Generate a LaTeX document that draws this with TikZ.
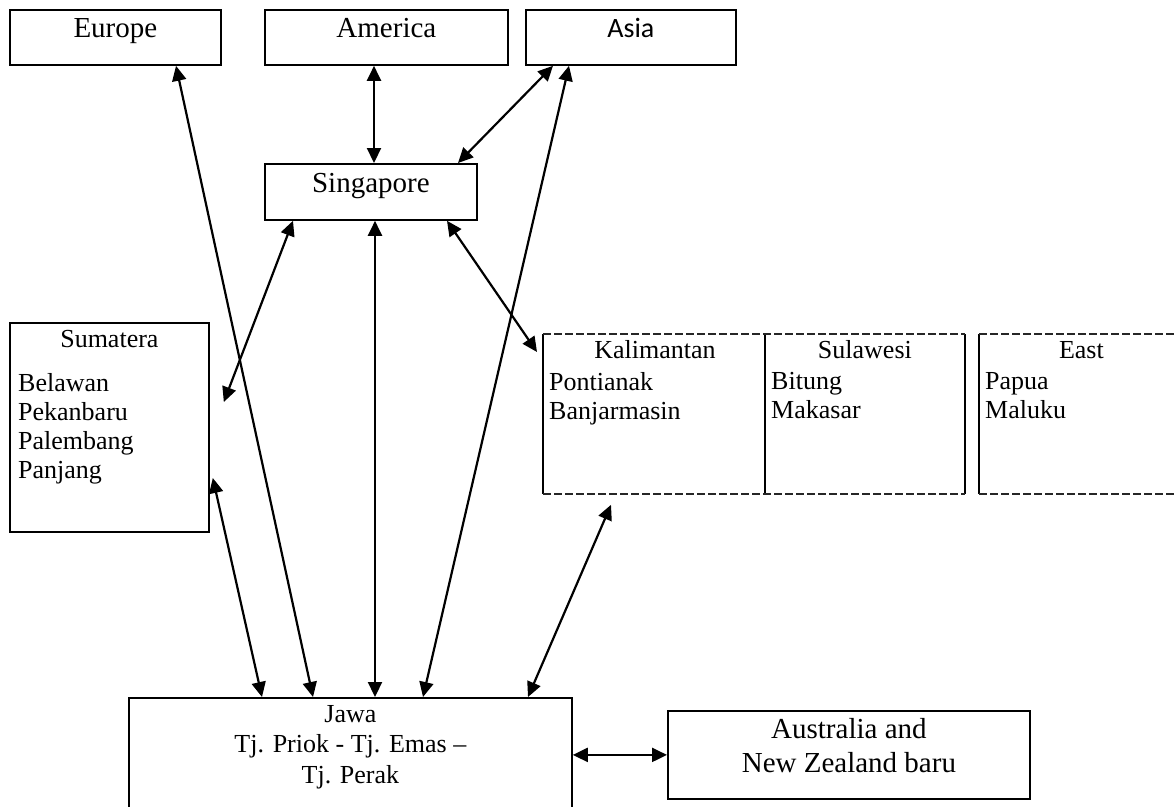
\documentclass[tikz,border=0pt]{standalone}
\usepackage{fontspec}
\setmainfont{Liberation Serif}
\newfontfamily\asiafont{Carlito}
\usetikzlibrary{arrows.meta,positioning,calc}

\tikzset{
  box/.style={draw, line width=1.8pt, rectangle, anchor=north west, inner sep=0pt},
  link/.style={{Triangle[length=15pt,width=14pt]}-{Triangle[length=15pt,width=14pt]}, line width=2.2pt},
  big/.style={font=\fontsize{29}{34}\selectfont, inner sep=0pt},
  small/.style={font=\fontsize{26}{29}\selectfont, inner sep=0pt, align=left},
  dashedge/.style={line width=1.8pt, black!85, dash pattern=on 8pt off 3pt},
}

\begin{document}
\begin{tikzpicture}[x=1pt,y=-1pt]
  \clip (0,0) rectangle (1175,806);
  % top row
  \node[box, minimum width=211pt, minimum height=55pt] (europe) at (9,9) {};
  \node[big, anchor=base] (europe-t) at ($(europe.north)+(0,28)$) {Europe};
  \node[box, minimum width=243pt, minimum height=55pt] (america) at (264,9) {};
  \node[big, anchor=base] (america-t) at ($(america.north)+(0,28)$) {America};
  \node[box, minimum width=210pt, minimum height=55pt] (asia) at (525,9) {};
  \node[big, anchor=base, font=\asiafont\fontsize{28}{34}\selectfont] (asia-t) at ($(asia.north)+(0,28)$) {Asia};
  % Singapore
  \node[box, minimum width=212pt, minimum height=56pt] (singapore) at (264,163) {};
  \node[big, anchor=base] (singapore-t) at ($(singapore.north)+(0,29)$) {Singapore};
  % Sumatera
  \node[box, minimum width=199pt, minimum height=209pt] (sumatera) at (9,322) {};
  \node[small, anchor=base] (sumatera-t) at ($(sumatera.north)+(0,25)$) {Sumatera};
  \node[small, anchor=north west] (sumatera-l) at ($(sumatera.north west)+(9,51)$)
    {Belawan\\Pekanbaru\\Palembang\\Panjang};
  % Kalimantan, Sulawesi, East
  \node[box, draw=none, minimum width=222pt, minimum height=158pt] (kalimantan) at (543,334) {};
  \node[box, draw=none, minimum width=198pt, minimum height=158pt] (sulawesi) at (765,334) {};
  \node[box, draw=none, minimum width=203pt, minimum height=158pt] (east) at (979,334) {};
  \draw[line width=1.8pt] (kalimantan.north west) -- (kalimantan.south west)
    (sulawesi.north west) -- (sulawesi.south west)
    (sulawesi.north east) -- (sulawesi.south east)
    (east.north west) -- (east.south west);
  \draw[dashedge] (kalimantan.north west) -- (sulawesi.north east)
    (kalimantan.south west) -- (sulawesi.south east)
    (east.north west) -- (east.north east)
    (east.south west) -- (east.south east);
  \node[small, anchor=base] (kalimantan-t) at ($(kalimantan.north)+(0,24)$) {Kalimantan};
  \node[small, anchor=north west] (kalimantan-l) at ($(kalimantan.north west)+(6,38)$) {Pontianak\\Banjarmasin};
  \node[small, anchor=base] (sulawesi-t) at ($(sulawesi.north)+(0,24)$) {Sulawesi};
  \node[small, anchor=north west] (sulawesi-l) at ($(sulawesi.north west)+(6,38)$) {Bitung\\Makasar};
  \node[small, anchor=base] (east-t) at ($(east.north)+(0,24)$) {East};
  \node[small, anchor=north west] (east-l) at ($(east.north west)+(6,38)$) {Papua\\Maluku};
  % Jawa
  \node[box, minimum width=443pt, minimum height=140pt] (jawa) at (128,697) {};
  \node[small, anchor=north, align=center, font=\fontsize{26}{30.5}\selectfont] (jawa-t) at ($(jawa.north)+(0,8)$)
    {Jawa\\Tj. Priok - Tj. Emas --\\Tj. Perak};
  % Australia
  \node[box, minimum width=362pt, minimum height=88pt] (australia) at (667,710) {};
  \node[big, anchor=north, align=center] (australia-t) at ($(australia.north)+(0,8)$)
    {Australia and\\New Zealand baru};

  % connections
  \draw[link] ($(europe.south west)+(167,0)$) -- ($(jawa.north west)+(185,0)$);
  \draw[link] ($(america.south west)+(110,0)$) -- ($(singapore.north west)+(110,0)$);
  \draw[link] ($(asia.south west)+(28,0)$) -- ($(singapore.north west)+(194,0)$);
  \draw[link] ($(asia.south west)+(44,0)$) -- ($(jawa.north west)+(295,0)$);
  \draw[link] ($(singapore.south west)+(29,0)$) -- ($(sumatera.north east)+(14,80)$);
  \draw[link] ($(singapore.south west)+(111,0)$) -- ($(jawa.north west)+(247,0)$);
  \draw[link] ($(singapore.south west)+(183,0)$) -- ($(kalimantan.north west)+(-6,18)$);
  \draw[link] ($(sumatera.north east)+(3,156)$) -- ($(jawa.north west)+(134,0)$);
  \draw[link] ($(kalimantan.south west)+(68,11)$) -- ($(jawa.north west)+(400,0)$);
  \draw[link] (australia.west -| jawa.east) -- (australia.west);
\end{tikzpicture}
\end{document}
